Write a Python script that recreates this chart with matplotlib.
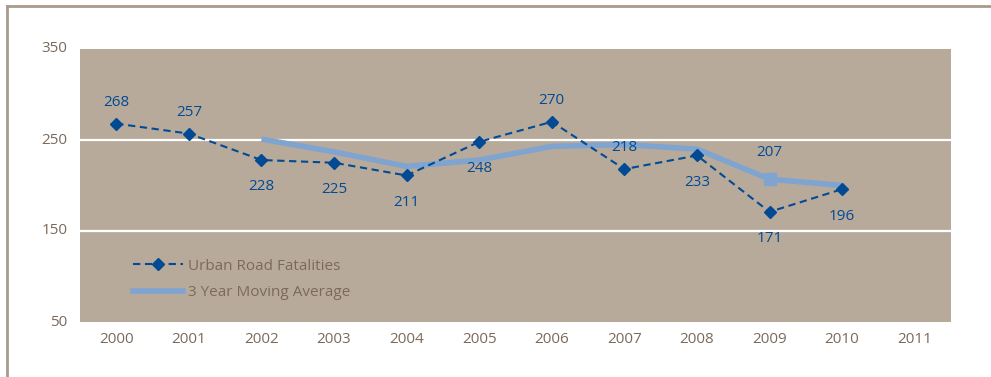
import matplotlib
matplotlib.use("Agg")
import matplotlib.pyplot as plt
from matplotlib.lines import Line2D

# urban road fatalities by year
years = ["2000", "2001", "2002", "2003", "2004", "2005",
         "2006", "2007", "2008", "2009", "2010", "2011"]
fatalities = [268, 257, 228, 225, 211, 248, 270, 218, 233, 171, 196]
# 3 year moving average, starts at 2002
avg_years = years[2:11]
moving_avg = [251, 237, 221, 228, 243, 245, 240, 207, 200]
# where each value label sits: +1 above the point, -1 below
label_side = [1, 1, -1, -1, -1, -1, 1, 1, -1, -1, -1]

DARK = "#024a93"
LIGHT = "#7fa4d0"
BG = "#b8aa9b"
TXT = "#7b6a5b"
BORDER = "#a89b8d"
FS = 11

plt.rcParams["font.family"] = ["Open Sans", "DejaVu Sans"]

fig = plt.figure(figsize=(9.91, 3.77), dpi=100)
ax = fig.add_axes([80 / 991, (377 - 322) / 377, 871 / 991, 273 / 377])
ax.set_facecolor(BG)

x = list(range(len(years)))
xa = [years.index(y) for y in avg_years]

for gy in (150, 250):
    ax.axhline(gy, color="white", lw=1.6, zorder=1)

ax.plot(xa, moving_avg, color=LIGHT, lw=4, solid_capstyle="butt", zorder=2)
i09 = avg_years.index("2009")
ax.plot(xa[i09], moving_avg[i09], marker="s", ms=9, color=LIGHT, zorder=2)
ax.annotate(str(moving_avg[i09]), (xa[i09], moving_avg[i09]),
            xytext=(0, 14), textcoords="offset points", ha="center",
            va="bottom", color=DARK, fontsize=FS)

ax.plot(x[:len(fatalities)], fatalities, color=DARK, lw=1.5, ls=(0, (3.5, 2.2)),
        marker="D", ms=6.5, zorder=3)
for i, v in enumerate(fatalities):
    if label_side[i] > 0:
        ax.annotate(str(v), (i, v), xytext=(0, 10), textcoords="offset points",
                    ha="center", va="bottom", color=DARK, fontsize=FS)
    else:
        ax.annotate(str(v), (i, v), xytext=(0, -14), textcoords="offset points",
                    ha="center", va="top", color=DARK, fontsize=FS)

ax.set_xlim(-0.5, len(years) - 0.5)
ax.set_ylim(50, 350)
ax.set_yticks([50, 150, 250, 350])
ax.set_xticks(x)
ax.set_xticklabels(years)
ax.tick_params(length=0, colors=TXT, labelsize=FS)
ax.tick_params(axis="y", pad=9)
ax.tick_params(axis="x", pad=7)
for lab in ax.get_yticklabels():
    lab.set_va("center")
for s in ax.spines.values():
    s.set_visible(False)

handles = [
    Line2D([], [], color=DARK, lw=1.5, ls=(0, (3.5, 2.2)), marker="D", ms=6.5),
    Line2D([], [], color=LIGHT, lw=4),
]
leg = ax.legend(handles, ["Urban Road Fatalities", "3 Year Moving Average"],
                loc="lower left", bbox_to_anchor=(0.045, 0.03), frameon=False,
                handlelength=3.3, handletextpad=0.3, labelspacing=0.75,
                fontsize=FS)
for t in leg.get_texts():
    t.set_color(TXT)

# outer frame: top and left edges only
fig.add_artist(Line2D([7 / 991, 1], [1 - 6 / 377] * 2, color=BORDER, lw=2,
                      transform=fig.transFigure))
fig.add_artist(Line2D([7 / 991] * 2, [0, 1 - 6 / 377], color=BORDER, lw=2,
                      transform=fig.transFigure))

fig.savefig("out.png", dpi=100, facecolor="white")
